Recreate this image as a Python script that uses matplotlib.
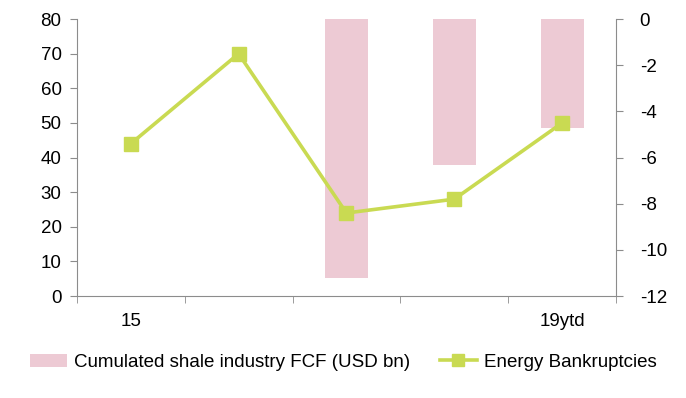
import numpy as np
import matplotlib.pyplot as plt
from matplotlib.ticker import FixedLocator

plt.rcParams['font.family'] = ['Liberation Sans', 'DejaVu Sans']
plt.rcParams['axes.unicode_minus'] = False

# ── data ────────────────────────────────────────────────
years = ['15', '16', '17', '18', '19ytd']
year_labels = ['15', '', '', '', '19ytd']
bankruptcies = [44, 70, 24, 28, 50]
shale_fcf = [np.nan, np.nan, -11.2, -6.3, -4.7]

BAR_COL = '#EDCAD4'
LINE_COL = '#C9DA52'
AXIS_COL = '#8C8C8C'
FS = 13.5

fig = plt.figure(figsize=(6.86, 3.98), dpi=100)
ax = fig.add_axes([0.112, 0.256, 0.786, 0.696])
ax2 = ax.twinx()

x = np.arange(len(years))

# bars on the primary axes, shown on the right scale (so the line sits on top)
ax.bar(x, shale_fcf, width=0.4, color=BAR_COL, label='Cumulated shale industry FCF (USD bn)')
ax.set_ylim(-12, 0)
ax.set_yticks(np.arange(-12, 1, 2))
ax.yaxis.tick_right()
ax.yaxis.set_label_position('right')

# line on the twin, shown on the left scale
ax2.plot(x, bankruptcies, color=LINE_COL, lw=2.6, marker='s', ms=10,
         label='Energy Bankruptcies')
ax2.set_ylim(0, 80)
ax2.set_yticks(np.arange(0, 81, 10))
ax2.yaxis.tick_left()

ax.set_xlim(-0.5, len(years) - 0.5)
ax.set_xticks(x)
ax.set_xticklabels(year_labels)
ax.xaxis.set_minor_locator(FixedLocator(np.arange(-0.5, len(years), 1)))
ax.tick_params(axis='x', which='major', length=0, pad=12, labelsize=FS)
ax.tick_params(axis='x', which='minor', length=5, color=AXIS_COL, direction='out')

for a in (ax, ax2):
    for s in a.spines.values():
        s.set_visible(False)
    a.tick_params(axis='y', length=5, color=AXIS_COL, labelsize=FS, direction='out')

for k in ('left', 'right', 'bottom'):
    ax2.spines[k].set_visible(True)
    ax2.spines[k].set_color(AXIS_COL)
ax.tick_params(axis='y', pad=12)
ax2.tick_params(axis='y', pad=6)

h1, l1 = ax.get_legend_handles_labels()
h2, l2 = ax2.get_legend_handles_labels()
fig.legend(h1 + h2, l1 + l2, loc='center', bbox_to_anchor=(0.5, 0.09), ncol=2,
           frameon=False, fontsize=FS, handlelength=2.0, columnspacing=1.6,
           handletextpad=0.35, markerscale=0.8)

fig.savefig('out.png', dpi=100)
